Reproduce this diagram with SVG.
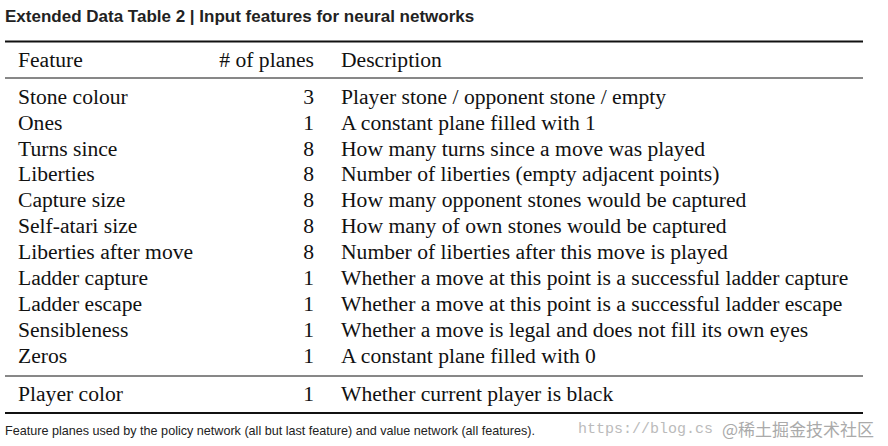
<svg xmlns="http://www.w3.org/2000/svg" width="888" height="446" viewBox="0 0 888 446">
<style>
.t{font-family:"Liberation Serif",serif;font-size:21.6px;fill:#111}
.n{text-anchor:end}
.h{font-family:"Liberation Sans",sans-serif;font-size:17px;font-weight:bold;fill:#222}
.f{font-family:"Liberation Sans",sans-serif;font-size:12.6px;fill:#222}
.w{font-family:"Liberation Mono",monospace;font-size:15px;fill:#bbb}
</style>
<rect width="888" height="446" fill="#fff"/>
<text class="h" x="5" y="22">Extended Data Table 2 | Input features for neural networks</text>
<g stroke="#111">
<line x1="5" y1="41.5" x2="863" y2="41.5" stroke-width="2"/>
<line x1="5" y1="78" x2="863" y2="78" stroke-width="1"/>
<line x1="5" y1="376" x2="863" y2="376" stroke-width="1"/>
<line x1="5" y1="413" x2="863" y2="413" stroke-width="2"/>
</g>
<g id="rows" class="t">
<text x="18" y="67">Feature</text><text class="t n" x="314" y="67"># of planes</text><text x="341" y="67">Description</text>
<text x="18" y="104">Stone colour</text><text class="t n" x="314" y="104">3</text><text x="341" y="104">Player stone / opponent stone / empty</text>
<text x="18" y="130">Ones</text><text class="t n" x="314" y="130">1</text><text x="341" y="130">A constant plane filled with 1</text>
<text x="18" y="156">Turns since</text><text class="t n" x="314" y="156">8</text><text x="341" y="156">How many turns since a move was played</text>
<text x="18" y="181">Liberties</text><text class="t n" x="314" y="181">8</text><text x="341" y="181">Number of liberties (empty adjacent points)</text>
<text x="18" y="207">Capture size</text><text class="t n" x="314" y="207">8</text><text x="341" y="207">How many opponent stones would be captured</text>
<text x="18" y="233">Self-atari size</text><text class="t n" x="314" y="233">8</text><text x="341" y="233">How many of own stones would be captured</text>
<text x="18" y="259">Liberties after move</text><text class="t n" x="314" y="259">8</text><text x="341" y="259">Number of liberties after this move is played</text>
<text x="18" y="285">Ladder capture</text><text class="t n" x="314" y="285">1</text><text x="341" y="285">Whether a move at this point is a successful ladder capture</text>
<text x="18" y="311">Ladder escape</text><text class="t n" x="314" y="311">1</text><text x="341" y="311">Whether a move at this point is a successful ladder escape</text>
<text x="18" y="337">Sensibleness</text><text class="t n" x="314" y="337">1</text><text x="341" y="337">Whether a move is legal and does not fill its own eyes</text>
<text x="18" y="363">Zeros</text><text class="t n" x="314" y="363">1</text><text x="341" y="363">A constant plane filled with 0</text>
<text x="18" y="401">Player color</text><text class="t n" x="314" y="401">1</text><text x="341" y="401">Whether current player is black</text>
</g>
<text class="f" x="5" y="435">Feature planes used by the policy network (all but last feature) and value network (all features).</text>
<text class="w" x="578" y="433">https://blog.cs</text>
<text x="722" y="436" style="font-family:'Noto Sans CJK SC',sans-serif;font-size:17px;fill:#aaa">@稀土掘金技术社区</text>
</svg>
